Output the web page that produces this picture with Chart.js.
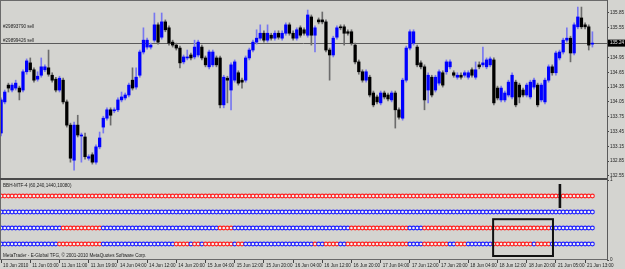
<!DOCTYPE html>
<html><head><meta charset="utf-8">
<script src="https://cdn.jsdelivr.net/npm/chart.js@4.4.1/dist/chart.umd.min.js"></script>
<style>html,body{margin:0;padding:0;background:#d4d4d0;overflow:hidden}</style>
</head><body>
<canvas id="c" width="625" height="269"></canvas>
<script>
const opens = [133.42,134.05,134.39,134.29,134.33,134.33,134.29,134.66,134.84,134.70,134.51,134.59,134.70,134.74,134.59,134.51,134.29,134.49,134.05,133.58,
132.87,133.58,133.36,133.34,132.91,132.98,132.83,133.14,133.54,133.72,133.89,133.87,133.89,134.09,134.13,134.19,134.49,134.35,134.59,135.06,
135.16,135.16,135.30,135.61,135.36,135.67,135.55,135.26,135.20,135.14,134.86,134.94,135.00,134.96,135.00,135.16,134.94,134.76,134.80,134.94,
134.94,133.99,134.53,134.29,134.49,134.64,134.49,134.49,134.94,135.10,135.26,135.34,135.44,135.30,135.40,135.34,135.44,135.34,135.44,135.61,
135.44,135.34,135.55,135.51,135.40,135.77,135.40,135.71,135.71,135.67,135.10,135.00,135.36,135.57,135.57,135.47,135.47,135.20,134.86,134.66,
134.49,134.55,134.23,134.15,134.03,134.23,134.19,134.09,134.23,133.89,133.72,134.49,135.14,135.24,135.16,134.84,134.76,134.29,134.55,134.29,
134.43,134.64,134.66,134.76,134.64,134.55,134.59,134.59,134.55,134.70,134.55,134.80,134.80,134.76,134.80,134.90,134.33,134.09,134.09,134.19,
134.15,134.45,134.39,134.29,134.19,134.15,134.35,134.39,134.09,134.05,134.49,134.76,134.64,134.94,135.06,135.30,135.34,135.04,135.57,135.75,
135.61,135.57,135.22];
const highs = [134.13,134.29,134.43,134.43,134.49,134.37,134.70,134.92,134.94,134.74,134.66,134.94,134.80,135.10,134.64,134.55,134.57,134.53,134.09,133.62,
133.64,133.78,133.42,133.42,132.98,133.02,133.18,133.44,133.76,133.93,133.93,133.93,134.13,134.25,134.23,134.43,134.74,134.74,135.10,135.55,
135.34,135.24,135.85,135.65,135.85,135.71,135.59,135.30,135.24,135.18,135.00,135.10,135.04,135.30,135.30,135.20,134.98,135.10,135.10,134.98,
134.98,134.59,134.57,134.84,134.90,134.68,134.53,134.98,135.14,135.30,135.51,135.61,135.49,135.61,135.44,135.49,135.49,135.49,135.65,135.65,
135.49,135.55,135.59,135.55,135.91,135.81,135.59,135.75,135.87,135.71,135.14,135.38,135.59,135.61,135.61,135.51,135.51,135.24,134.90,134.70,
134.70,134.59,134.27,134.19,134.27,134.27,134.23,134.27,134.27,133.93,134.53,135.18,135.51,135.51,135.20,134.88,134.80,134.64,134.59,134.59,
134.70,134.68,134.90,134.90,134.68,134.64,134.64,134.68,134.68,134.74,134.86,134.86,135.16,134.94,134.96,134.94,134.37,134.37,134.27,134.49,
134.64,134.49,134.43,134.33,134.43,134.49,134.53,134.43,134.43,134.53,134.80,134.80,135.08,135.10,135.34,135.55,135.38,135.65,135.97,135.97,
135.65,135.61,135.47];
const lows = [133.36,134.01,134.25,134.25,134.29,134.09,134.25,134.61,134.66,134.45,134.47,134.55,134.66,134.57,134.45,134.25,134.25,134.01,133.54,132.83,
132.67,133.34,132.83,132.89,132.87,132.79,132.79,133.10,133.42,133.68,133.58,133.83,133.85,134.05,134.09,134.15,134.29,134.31,134.55,135.02,
135.12,135.12,135.26,135.22,135.32,135.47,135.20,135.16,135.10,134.74,134.82,134.90,134.90,134.92,134.96,134.90,134.76,134.72,134.76,134.76,
133.93,133.93,134.03,133.89,134.45,134.39,134.33,134.45,134.90,135.06,135.22,135.30,135.26,135.26,135.30,135.30,135.32,135.30,135.40,135.40,
135.30,135.30,135.36,135.40,135.36,135.20,135.06,135.63,135.63,135.06,134.49,134.96,135.32,135.51,135.20,135.40,135.20,134.82,134.61,134.45,
134.45,134.15,133.95,134.01,133.99,134.11,134.07,134.05,133.52,133.70,133.68,134.45,135.10,135.20,134.76,134.72,133.89,134.03,134.15,134.25,
134.39,134.35,134.61,134.72,134.55,134.51,134.51,134.55,134.51,134.55,134.51,134.72,134.76,134.72,134.76,133.99,134.09,134.05,134.05,134.15,
134.11,133.95,134.03,134.15,134.15,134.11,134.31,133.95,134.05,134.01,134.45,134.59,134.59,134.90,135.02,135.26,134.86,135.00,135.53,135.53,
135.53,135.10,135.16];
const closes = [134.09,134.25,134.33,134.39,134.43,134.25,134.66,134.88,134.70,134.49,134.57,134.76,134.76,134.61,134.49,134.29,134.53,134.05,133.58,132.91,
133.58,133.38,133.38,132.94,132.94,132.83,133.14,133.32,133.72,133.89,133.78,133.89,134.09,134.15,134.19,134.39,134.33,134.55,135.06,135.30,
135.30,135.20,135.61,135.26,135.67,135.51,135.24,135.20,135.14,134.84,134.96,134.96,134.94,135.16,135.26,134.94,134.80,135.06,135.06,134.80,
133.99,134.55,134.49,134.80,134.86,134.43,134.45,134.94,135.10,135.26,135.34,135.44,135.30,135.44,135.34,135.44,135.36,135.44,135.61,135.44,
135.34,135.51,135.40,135.44,135.81,135.40,135.55,135.67,135.67,135.10,135.00,135.34,135.55,135.55,135.44,135.44,135.24,134.86,134.66,134.49,
134.66,134.19,133.99,134.05,134.23,134.15,134.11,134.23,133.89,133.74,134.49,135.14,135.47,135.47,134.80,134.76,134.09,134.59,134.19,134.55,
134.66,134.39,134.86,134.86,134.59,134.59,134.55,134.64,134.64,134.59,134.70,134.76,134.84,134.90,134.92,134.03,134.13,134.33,134.23,134.45,
134.59,133.99,134.15,134.19,134.39,134.45,134.49,133.99,134.39,134.49,134.76,134.64,135.04,135.06,135.30,135.34,135.04,135.61,135.77,135.57,
135.57,135.20,135.24];
const priceTicks = [132.55,132.85,133.15,133.45,133.75,134.05,134.35,134.65,134.95,135.25,135.55,135.85];
const timeLabels = ['10 Jun 2010','11 Jun 03:00','11 Jun 11:00','11 Jun 19:00','14 Jun 04:00','14 Jun 12:00','14 Jun 20:00',
'15 Jun 04:00','15 Jun 12:00','15 Jun 20:00','16 Jun 04:00','16 Jun 12:00','16 Jun 20:00','17 Jun 04:00','17 Jun 12:00',
'17 Jun 20:00','18 Jun 04:00','18 Jun 12:00','18 Jun 20:00','21 Jun 05:00','21 Jun 13:00'];
const barsPerLabel = 8;
// indicator BBH-MTF-4 rows: runs of [state, bar count]  (R = red, B = blue)
const rowLevels = [0.8, 0.6, 0.4, 0.2];
const row1Runs = [['R',163]];
const row2Runs = [['B',163]];
const row3Runs = [['B',17],['R',11],['B',32],['R',4],['B',32],['R',16],['B',4],['R',35],['B',12]];
const row4Runs = [['B',16],['R',12],['B',20],['R',4],['B',1],['R',2],['B',1],['R',8],['B',1],['R',2],['B',19],['R',1],['B',2],['R',4],['B',2],['R',17],['B',4],['R',7],['B',2],['R',3],['B',7],['R',11],['B',1],['R',4],['B',12]];
const orderPrices = [135.51, 135.24];
const orderLabels = ['#29893790 sell', '#29899426 sell'];
const indicatorTitle = 'BBH-MTF-4 (60,240,1440,10080)';
const copyright = 'MetaTrader - E-Global TFG, \u00a9 2001-2010 MetaQuotes Software Corp.';
// hand-drawn marks on the indicator window (bar index / indicator value)
const markBox = {x0: 134.8, x1: 151.2, y0: 0.05, y1: 0.51};
const markStroke = {x: 153.1, y0: 0.65, y1: 0.95};

const FONT = 'Liberation Sans';
const idx = closes.map((_, i) => i);
const bull = idx.map(i => closes[i] >= opens[i]);
const expand = runs => runs.flatMap(([s, n]) => Array(n).fill(s));
const rows = [row1Runs, row2Runs, row3Runs, row4Runs].map(expand);
const RED = '#ff1f1f', BLUE = '#1f1fff';

const dotSets = rows.map((states, r) => ({
  type: 'scatter', yAxisID: 'y2', order: 0,
  data: states.map((s, i) => ({x: i, y: rowLevels[r]})),
  pointRadius: 1.9, pointBorderWidth: 1.1,
  pointBackgroundColor: '#f2f2f2',
  pointBorderColor: states.map(s => s === 'R' ? RED : BLUE)
}));

// MetaTrader window geometry: price pane, indicator pane, axes
const PLOT_RIGHT = 607, MAIN_BOTTOM = 180, SUB_BOTTOM = 260;
function forceGeometry(chart) {
  const R = chart.width, B = chart.height;
  const {x, y, y2} = chart.scales;
  Object.assign(chart.chartArea, {left: 0, top: 0, right: PLOT_RIGHT, bottom: SUB_BOTTOM, width: PLOT_RIGHT, height: SUB_BOTTOM});
  Object.assign(x, {left: 0, right: PLOT_RIGHT, top: SUB_BOTTOM, bottom: B, width: PLOT_RIGHT, height: B - SUB_BOTTOM});
  Object.assign(y, {left: PLOT_RIGHT, right: R, top: 0, bottom: MAIN_BOTTOM, width: R - PLOT_RIGHT, height: MAIN_BOTTOM});
  Object.assign(y2, {left: PLOT_RIGHT, right: R, top: MAIN_BOTTOM, bottom: SUB_BOTTOM, width: R - PLOT_RIGHT, height: SUB_BOTTOM - MAIN_BOTTOM});
  [x, y, y2].forEach(s => { s.configure(); s._gridLineItems = null; s._labelItems = null; });
}
const layoutPlugin = {
  id: 'fixlayout',
  afterLayout(chart) { forceGeometry(chart); },
  beforeDatasetsUpdate(chart) { forceGeometry(chart); }
};

const framePlugin = {
  id: 'mtframe',
  beforeDraw(chart) {
    const {ctx} = chart;
    ctx.save(); ctx.fillStyle = '#d4d4d0'; ctx.fillRect(0, 0, chart.width, chart.height); ctx.restore();
  },
  beforeDatasetsDraw(chart) {
    const {ctx, chartArea: a, scales} = chart;
    const y = scales.y;
    ctx.save();
    const ly = Math.round(y.getPixelForValue(closes[closes.length - 1])) + 0.5;
    ctx.strokeStyle = '#5a5a5a'; ctx.lineWidth = 1;
    ctx.beginPath(); ctx.moveTo(a.left, ly); ctx.lineTo(a.right, ly); ctx.stroke();
    ctx.restore();
  },
  afterDatasetsDraw(chart) {
    const {ctx, chartArea: a, scales} = chart;
    const y = scales.y, y2 = scales.y2, x = scales.x;
    ctx.save();
    ctx.fillStyle = '#6a6a6a';
    ctx.fillRect(a.left, 0, a.right - a.left, 1);
    ctx.fillRect(a.left, 0, 1, a.bottom);
    ctx.fillStyle = '#4a4a4a';
    ctx.fillRect(a.left, y.bottom - 2, a.right - a.left, 2);
    ctx.fillStyle = '#6a6a6a';
    ctx.fillRect(a.left, a.bottom - 1, a.right - a.left, 1);
    ctx.fillStyle = '#1c1c1c';
    ctx.font = '4.6px "' + FONT + '"';
    ctx.textAlign = 'left'; ctx.textBaseline = 'bottom';
    orderPrices.forEach((p, k) => ctx.fillText(orderLabels[k], a.left + 3, y.getPixelForValue(p) - 0.5));
    ctx.textBaseline = 'top';
    ctx.fillText(indicatorTitle, a.left + 3, y2.top + 3);
    ctx.textBaseline = 'bottom';
    ctx.fillText(copyright, a.left + 3, a.bottom - 2);
    ctx.strokeStyle = '#111'; ctx.lineWidth = 2;
    const bx0 = x.getPixelForValue(markBox.x0), bx1 = x.getPixelForValue(markBox.x1);
    const by0 = y2.getPixelForValue(markBox.y1), by1 = y2.getPixelForValue(markBox.y0);
    ctx.strokeRect(bx0, by0, bx1 - bx0, by1 - by0);
    ctx.lineWidth = 2.6;
    const sx = x.getPixelForValue(markStroke.x);
    ctx.beginPath(); ctx.moveTo(sx, y2.getPixelForValue(markStroke.y1)); ctx.lineTo(sx, y2.getPixelForValue(markStroke.y0)); ctx.stroke();
    ctx.restore();
  },
  afterDraw(chart) {
    const {ctx, chartArea: a, scales} = chart;
    const y = scales.y;
    const last = closes[closes.length - 1];
    const py = y.getPixelForValue(last);
    ctx.save();
    ctx.fillStyle = '#000';
    ctx.fillRect(a.right + 1, py - 3.5, 17, 7);
    ctx.fillStyle = '#e8e8e8';
    ctx.font = '4.6px "' + FONT + '"';
    ctx.textAlign = 'left'; ctx.textBaseline = 'middle';
    ctx.fillText(last.toFixed(2), a.right + 3, py);
    ctx.restore();
  }
};

new Chart(document.getElementById('c'), {
  type: 'bar',
  data: {
    datasets: [
      {
        label: 'wick', order: 2, yAxisID: 'y', grouped: false, barThickness: 1,
        data: idx.map(i => ({x: i, y: [lows[i], highs[i]]})),
        backgroundColor: bull.map(b => b ? '#7777f0' : '#6c6c6c')
      },
      {
        label: 'body', order: 1, yAxisID: 'y', grouped: false, barThickness: 2.6, minBarLength: 1,
        data: idx.map(i => ({x: i, y: [opens[i], closes[i]]})),
        backgroundColor: bull.map(b => b ? '#0000ff' : '#000000')
      },
      ...dotSets
    ]
  },
  options: {
    responsive: false, animation: false, events: [],
    layout: {padding: 0, autoPadding: false},
    plugins: {legend: {display: false}, tooltip: {enabled: false}},
    scales: {
      x: {
        type: 'linear', position: 'bottom', min: -0.3, max: 166, offset: false,
        afterBuildTicks: s => { s.ticks = timeLabels.map((_, k) => ({value: k * barsPerLabel})); },
        ticks: {
          callback: v => timeLabels[Math.round(v / barsPerLabel)] ?? '',
          autoSkip: false, maxRotation: 0, minRotation: 0, align: 'start', labelOffset: 2, padding: 0,
          font: {size: 4.6, family: FONT}, color: '#1c1c1c'
        },
        grid: {offset: false, drawOnChartArea: false, drawTicks: true, tickLength: 3, color: '#444', lineWidth: 1},
        border: {display: false}
      },
      y: {
        position: 'right', stack: 'pane', stackWeight: 180,
        min: 132.469, max: 136.113,
        afterBuildTicks: s => { s.ticks = priceTicks.map(v => ({value: v})); },
        ticks: {callback: v => Number(v).toFixed(2), autoSkip: false, padding: 1, font: {size: 4.6, family: FONT}, color: '#1c1c1c'},
        grid: {drawOnChartArea: false, drawTicks: true, tickLength: 2, color: '#444'},
        border: {display: true, color: '#5a5a5a', width: 1}
      },
      y2: {
        position: 'right', stack: 'pane', stackWeight: 80,
        min: 0, max: 1,
        afterBuildTicks: s => { s.ticks = [{value: 0}, {value: 1}]; },
        ticks: {callback: v => String(v), autoSkip: false, padding: 1, font: {size: 4.6, family: FONT}, color: '#1c1c1c'},
        grid: {drawOnChartArea: false, drawTicks: true, tickLength: 2, color: '#444'},
        border: {display: true, color: '#5a5a5a', width: 1}
      }
    }
  },
  plugins: [layoutPlugin, framePlugin]
});
</script>
</body></html>
